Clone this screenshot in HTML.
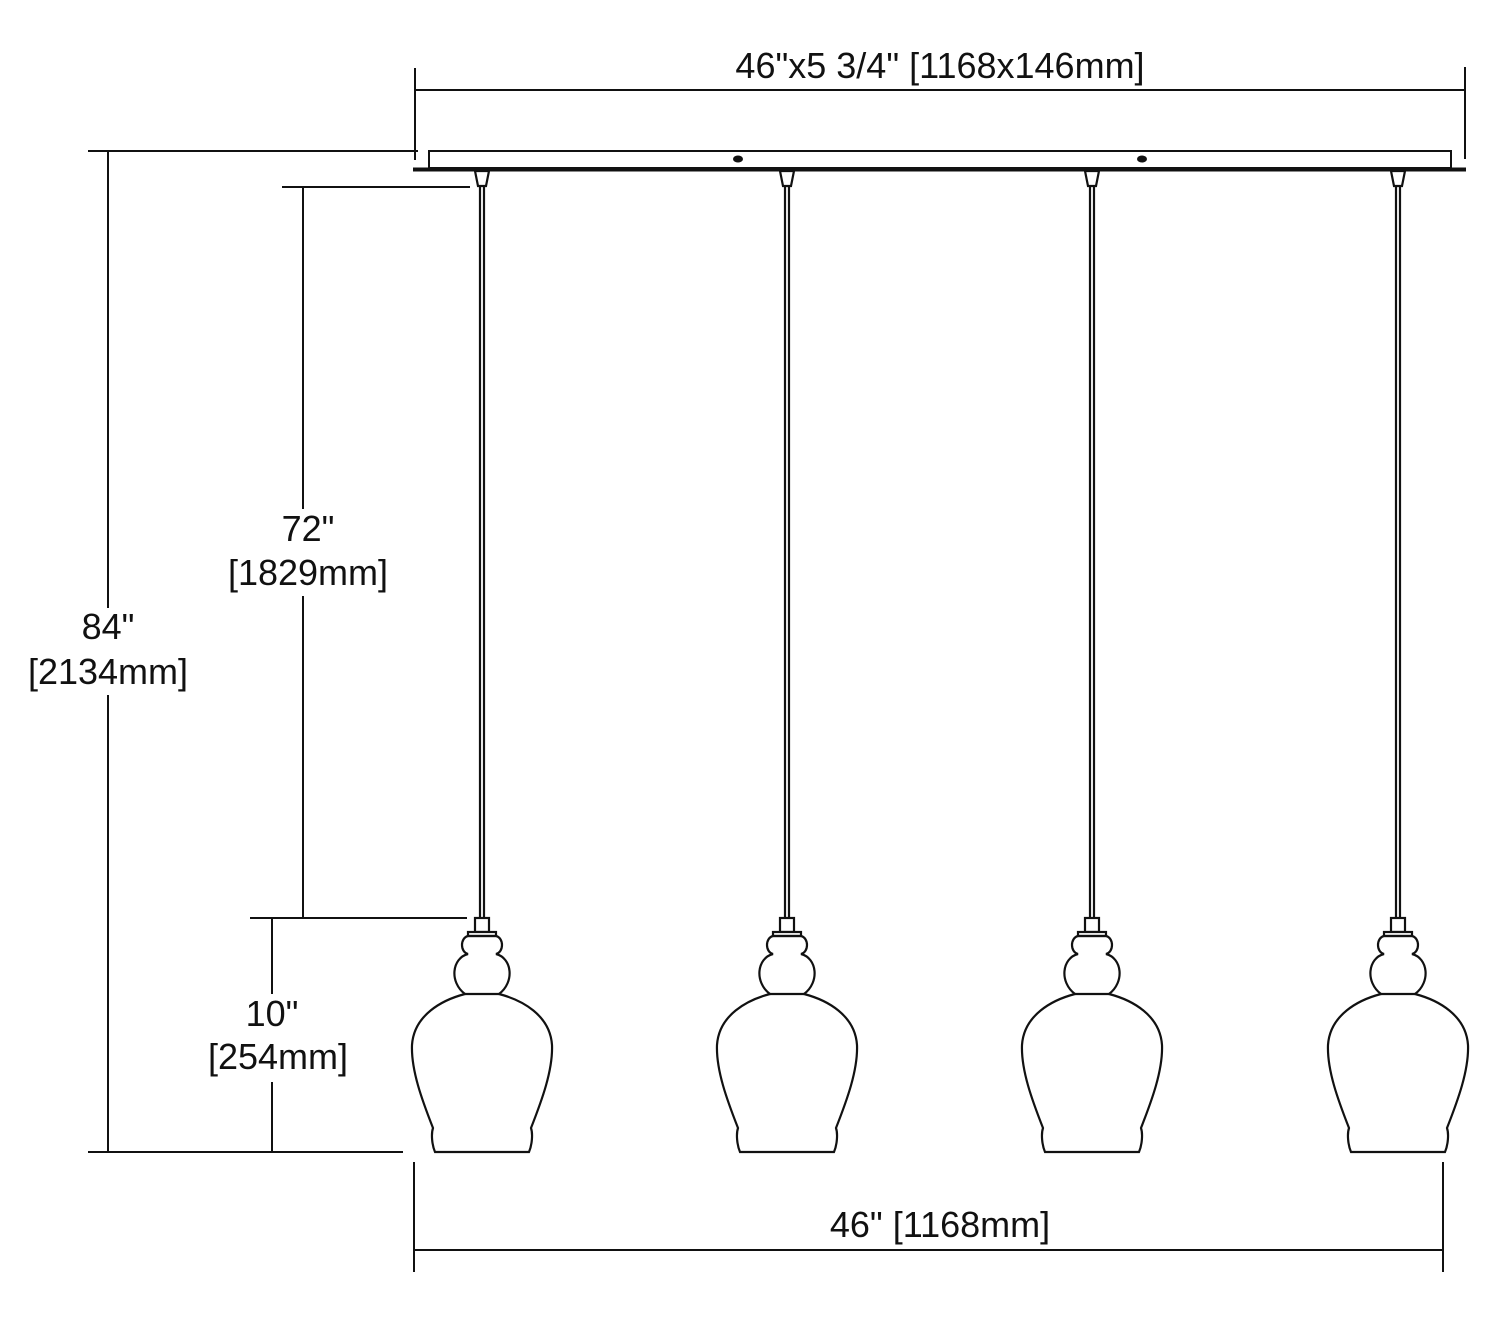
<!DOCTYPE html>
<html><head><meta charset="utf-8"><style>
html,body{margin:0;padding:0;background:#fff;}
svg{display:block;}
text{font-family:"Liberation Sans",sans-serif;font-size:36px;fill:#111;text-anchor:middle;}
</style></head><body>
<svg width="1500" height="1323" viewBox="0 0 1500 1323" xmlns="http://www.w3.org/2000/svg">
<defs>
<g id="p" fill="none" stroke="#111" stroke-width="2.2">
  <path d="M-7 171 L7 171 L4 186 L-4 186 Z" fill="#fff"/>
  <line x1="-2" y1="186" x2="-2" y2="918"/>
  <line x1="2" y1="186" x2="2" y2="918"/>
  <rect x="-7" y="918" width="14" height="14" fill="#fff"/>
  <rect x="-14" y="932" width="28" height="4" fill="#fff"/>
  <path d="M14 936 C22 938 22 952 14 954 C30 958 33 982 17 994 C40 1000 68 1015 70 1045 C71 1070 60 1100 49 1128 C51 1134 50 1145 47 1152 L-47 1152 C-50 1145 -51 1134 -49 1128 C-60 1100 -71 1070 -70 1045 C-68 1015 -40 1000 -17 994 C-33 982 -30 958 -14 954 C-22 952 -22 938 -14 936 Z"/>
  <line x1="-17" y1="994" x2="17" y2="994"/>
</g>
</defs>
<g stroke="#111" stroke-width="2" fill="none">
  <line x1="415" y1="68" x2="415" y2="160"/>
  <line x1="1465" y1="67" x2="1465" y2="159"/>
  <line x1="415" y1="90" x2="1465" y2="90"/>
  <rect x="429" y="151" width="1022" height="17" fill="#fff"/>
  <line x1="413" y1="169.5" x2="1466" y2="169.5" stroke-width="4"/>
  <line x1="88" y1="151" x2="418" y2="151"/>
  <line x1="88" y1="1152" x2="403" y2="1152"/>
  <line x1="108" y1="151" x2="108" y2="608"/>
  <line x1="108" y1="695" x2="108" y2="1152"/>
  <line x1="282" y1="187" x2="470" y2="187"/>
  <line x1="250" y1="918" x2="467" y2="918"/>
  <line x1="303" y1="187" x2="303" y2="509"/>
  <line x1="303" y1="596" x2="303" y2="918"/>
  <line x1="272" y1="918" x2="272" y2="994"/>
  <line x1="272" y1="1082" x2="272" y2="1152"/>
  <line x1="414" y1="1162" x2="414" y2="1272"/>
  <line x1="1443" y1="1162" x2="1443" y2="1272"/>
  <line x1="414" y1="1250" x2="1443" y2="1250"/>
</g>
<ellipse cx="738" cy="159" rx="5" ry="3.5" fill="#111"/>
<ellipse cx="1142" cy="159" rx="5" ry="3.5" fill="#111"/>
<use href="#p" x="482"/>
<use href="#p" x="787"/>
<use href="#p" x="1092"/>
<use href="#p" x="1398"/>
<text x="940" y="78">46"x5 3/4" [1168x146mm]</text>
<text x="108" y="639">84"</text>
<text x="108" y="684">[2134mm]</text>
<text x="308" y="541">72"</text>
<text x="308" y="585">[1829mm]</text>
<text x="272" y="1026">10"</text>
<text x="278" y="1069">[254mm]</text>
<text x="940" y="1237">46" [1168mm]</text>
</svg>
</body></html>
